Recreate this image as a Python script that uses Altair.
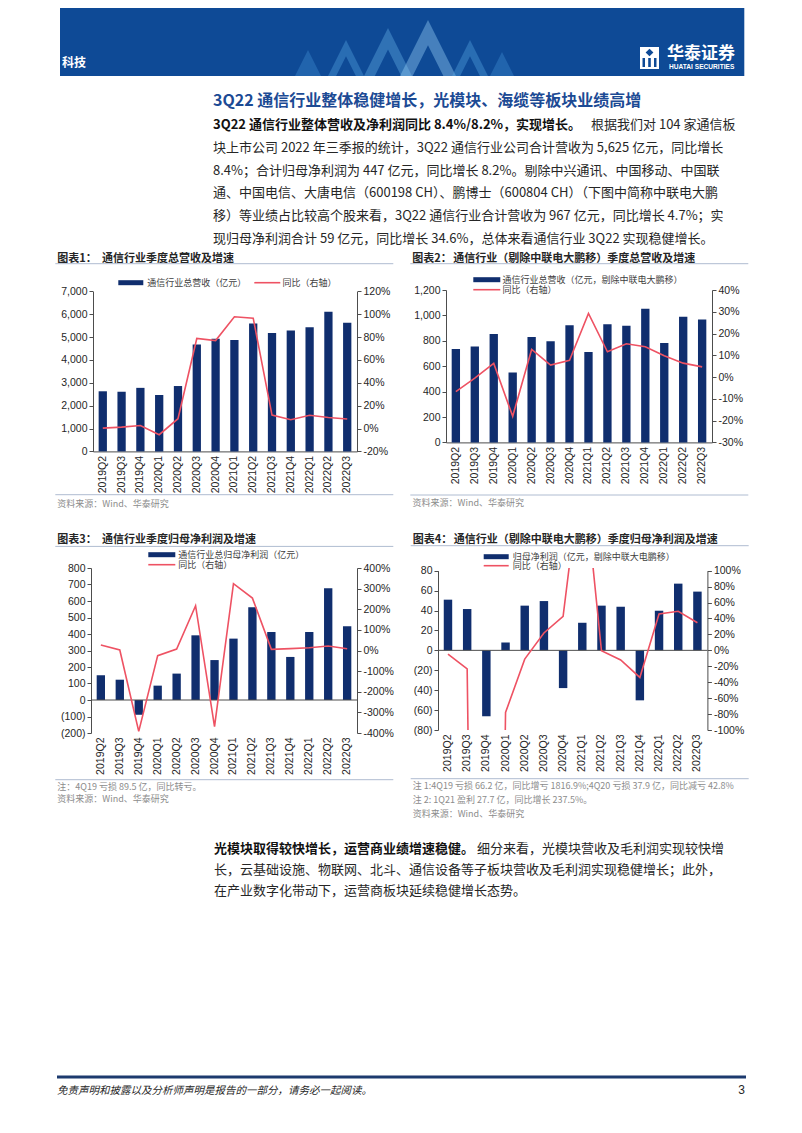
import altair as alt
import pandas as pd

# ---------------- data ----------------
quarters = ["2019Q2", "2019Q3", "2019Q4", "2020Q1", "2020Q2", "2020Q3", "2020Q4",
            "2021Q1", "2021Q2", "2021Q3", "2021Q4", "2022Q1", "2022Q2", "2022Q3"]
rev_total = [2630, 2610, 2780, 2470, 2860, 4680, 4930, 4870, 5600, 5180, 5290, 5430, 6110, 5625]
rev_total_yoy = [0.4, 1.2, 2.7, -5.4, 8.6, 78.8, 77.0, 97.8, 96.6, 11.8, 7.7, 11.6, 9.6, 8.4]
rev_ex = [735, 756, 853, 551, 830, 796, 922, 712, 930, 919, 1053, 783, 990, 967]
rev_ex_yoy = [-6.7, -0.5, 6.3, -18.0, 12.7, 5.5, 7.7, 29.2, 11.6, 15.3, 13.9, 9.8, 6.4, 4.7]
np_total = [150, 123, -89.5, 87, 160, 392, 242, 372, 562, 412, 261, 412, 677, 447]
np_total_yoy = [26.7, 2.4, -392.0, -25.0, 7.3, 217.0, -369.0, 324.0, 254.0, 5.7, 8.9, 13.7, 21.8, 8.2]
np_ex = [50.9, 41.5, -66.2, 8.0, 44.9, 49.5, -37.9, 27.7, 44.9, 43.8, -50.2, 39.8, 67.0, 59.0]
np_ex_yoy = [-4.6, -23.4, -1816.9, -78.0, -11.0, 21.8, 42.8, 237.5, -0.5, -12.0, -34.0, 45.6, 49.0, 34.6]

title_main = "3Q22 通信行业整体稳健增长，光模块、海缆等板块业绩高增"
para1_bold = "3Q22 通信行业整体营收及净利润同比 8.4%/8.2%，实现增长。"
para1_first_rest = "根据我们对 104 家通信板"
para1_lines = [
    "块上市公司 2022 年三季报的统计，3Q22 通信行业公司合计营收为 5,625 亿元，同比增长",
    "8.4%；合计归母净利润为 447 亿元，同比增长 8.2%。剔除中兴通讯、中国移动、中国联",
    "通、中国电信、大唐电信（600198 CH）、鹏博士（600804 CH）（下图中简称中联电大鹏",
    "移）等业绩占比较高个股来看，3Q22 通信行业合计营收为 967 亿元，同比增长 4.7%；实",
    "现归母净利润合计 59 亿元，同比增长 34.6%，总体来看通信行业 3Q22 实现稳健增长。",
]
para2_bold = "光模块取得较快增长，运营商业绩增速稳健。"
para2_first_rest = "细分来看，光模块营收及毛利润实现较快增"
para2_lines = [
    "长，云基础设施、物联网、北斗、通信设备等子板块营收及毛利润实现稳健增长；此外，",
    "在产业数字化带动下，运营商板块延续稳健增长态势。",
]
source_txt = "资料来源：Wind、华泰研究"
yoy_label = "同比（右轴）"
footer_txt = "免责声明和披露以及分析师声明是报告的一部分，请务必一起阅读。"

# ---------------- style ----------------
CJK = "Noto Sans CJK SC"
LAT = "Liberation Sans"
NAVY = "#102E6E"
RED = "#EE5263"
AXC = "#4D4D4D"
TXT = "#262626"
GRAY = "#8C8C8C"
RULE = "#AFBCD1"
BANNER = "#0E4A96"
BLUE = "#1C4A94"
FOOT = "#1C3A6E"
ONE = pd.DataFrame({"k": [0]})


def txt(s, x, y, size=9, color=TXT, weight="normal", font=CJK, align="left", style="normal"):
    return alt.Chart(ONE).mark_text(
        text=s, align=align, baseline="middle", fontSize=size, font=font,
        fontWeight=weight, fontStyle=style, color=color
    ).encode(x=alt.value(x), y=alt.value(y))


def hline(x1, x2, y, color, w=1.0):
    return alt.Chart(ONE).mark_rule(color=color, strokeWidth=w).encode(
        x=alt.value(x1), x2=alt.value(x2), y=alt.value(y))


def box(x1, x2, y1, y2, color, opacity=1.0):
    return alt.Chart(ONE).mark_rect(color=color, opacity=opacity).encode(
        x=alt.value(x1), x2=alt.value(x2), y=alt.value(y1), y2=alt.value(y2))


def shape(x, y, size, color, opacity, path):
    return alt.Chart(ONE).mark_point(shape=path, filled=True, size=size, color=color,
                                     opacity=opacity, strokeWidth=0).encode(
        x=alt.value(x), y=alt.value(y))


def spacer(w, h):
    return alt.Chart(ONE).mark_point(size=0, opacity=0).encode(
        x=alt.value(0.5), y=alt.value(0.5)).properties(width=w, height=h)


def panel(bars, yoy, w, h, top, ldom, lvals, rdom, rvals, zero_line, deco):
    """Plot area is h tall and starts `top` px below the panel's top edge."""
    H = h + top
    df = pd.DataFrame({"q": quarters, "v": bars, "g": yoy})
    x = alt.X("q:N", sort=quarters, title=None,
              scale=alt.Scale(paddingInner=0.56, paddingOuter=0.3),
              axis=alt.Axis(labelAngle=-90, labelFont=LAT, labelFontSize=10.5, labelColor=TXT,
                            labelPadding=4, ticks=False, tickSize=0, domain=not zero_line,
                            domainColor=AXC, labelOverlap=False))
    lexpr = ("datum.value < 0 ? '(' + format(-datum.value, ',') + ')' "
             ": format(datum.value, ',')")
    yl = alt.Y("v:Q", title=None,
               scale=alt.Scale(domain=ldom, nice=False, zero=False, range=[H, top]),
               axis=alt.Axis(orient="left", values=lvals, labelExpr=lexpr, grid=False,
                             domainColor=AXC, tickColor=AXC, tickSize=4, labelPadding=2,
                             labelFont=LAT, labelFontSize=10.5, labelColor=TXT,
                             labelFlush=False, labelOverlap=False))
    yr = alt.Y("g:Q", title=None,
               scale=alt.Scale(domain=rdom, nice=False, zero=False, range=[H, top]),
               axis=alt.Axis(orient="right", values=rvals, labelExpr="datum.value + '%'",
                             grid=False, domainColor=AXC, tickColor=AXC, tickSize=4,
                             labelPadding=2, labelFont=LAT, labelFontSize=10.5,
                             labelColor=TXT, labelFlush=False, labelOverlap=False))
    bar = alt.Chart(df).mark_bar(color=NAVY).encode(x=x, y=yl, y2=alt.datum(0))
    if zero_line:
        zr = alt.Chart(pd.DataFrame({"v": [0]})).mark_rule(color=AXC, strokeWidth=1).encode(y=yl)
        left = alt.layer(bar, zr)
    else:
        left = bar
    line = alt.Chart(df).mark_line(color=RED, strokeWidth=1.6, clip=True).encode(x=x, y=yr)
    return alt.layer(left, line, *deco(top)).resolve_scale(y="independent").properties(
        width=w, height=H)


# ---------------- chart 1 ----------------
def deco1(t):
    return [
        txt("图表1：", -35.7, t - 32.7, 11, TXT, "bold"),
        txt("通信行业季度总营收及增速", 9, t - 32.7, 11, TXT, "bold"),
        hline(-37.7, 300.3, t - 27.7, RULE),
        box(25.3, 50.3, t - 11.2, t - 6.2, NAVY),
        txt("通信行业总营收（亿元）", 54.3, t - 8.7, 9, "#404040"),
        hline(161.3, 187.3, t - 8.7, RED, 1.6),
        txt(yoy_label, 189.6, t - 8.7, 9, "#404040"),
        hline(-37.7, 300.3, t + 203.3, RULE),
        txt(source_txt, -35.7, t + 212.3, 9, GRAY),
    ]


c1 = panel(rev_total, rev_total_yoy, 264, 160, 1.4, [0, 7000], list(range(0, 7001, 1000)),
           [-20, 120], list(range(-20, 121, 20)), False, deco1)


# ---------------- chart 2 ----------------
def deco2(t):
    return [
        txt("图表2：", -33.7, t - 31.3, 11, TXT, "bold"),
        txt("通信行业（剔除中联电大鹏移）季度总营收及增速", 7.3, t - 31.3, 11, TXT, "bold"),
        hline(-35.7, 302.3, t - 26.3, RULE),
        box(27.3, 54.3, t - 12.8, t - 7.8, NAVY),
        txt("通信行业总营收（亿元，剔除中联电大鹏移）", 56.6, t - 10.3, 9, "#404040"),
        hline(27.3, 54.3, t - 0.3, RED, 1.6),
        txt(yoy_label, 56.6, t - 0.3, 9, "#404040"),
        hline(-35.7, 302.3, t + 205, RULE),
        txt(source_txt, -33.4, t + 213.4, 9, GRAY),
    ]


c2 = panel(rev_ex, rev_ex_yoy, 266, 152.4, 0, [0, 1200], list(range(0, 1201, 200)),
           [-30, 40], list(range(-30, 41, 10)), False, deco2)


# ---------------- chart 3 ----------------
def deco3(t):
    return [
        txt("图表3：", -33.7, t - 28.3, 11, TXT, "bold"),
        txt("通信行业季度归母净利润及增速", 11, t - 28.3, 11, TXT, "bold"),
        hline(-35.7, 302.3, t - 21.6, RULE),
        box(57.3, 84.3, t - 15.8, t - 10.8, NAVY),
        txt("通信行业总归母净利润（亿元）", 87.3, t - 13.3, 9, "#404040"),
        hline(57.3, 84.3, t - 3.3, RED, 1.6),
        txt(yoy_label, 87.3, t - 3.3, 9, "#404040"),
        hline(-35.7, 302.3, t + 211.7, RULE),
        txt("注：4Q19 亏损 89.5 亿，同比转亏。", -33.7, t + 218.7, 9, GRAY),
        txt(source_txt, -33.7, t + 230.7, 9, GRAY),
    ]


c3 = panel(np_total, np_total_yoy, 266, 165, 0, [-200, 800], list(range(-200, 801, 100)),
           [-400, 400], list(range(-400, 401, 100)), True, deco3)


# ---------------- chart 4 ----------------
def deco4(t):
    return [
        txt("图表4：", -25.3, t - 31, 11, TXT, "bold"),
        txt("通信行业（剔除中联电大鹏移）季度归母净利润及增速", 15.7, t - 31, 11, TXT, "bold"),
        hline(-27.3, 310.7, t - 25, RULE),
        box(45.7, 70.7, t - 16.5, t - 11.5, NAVY),
        txt("归母净利润（亿元，剔除中联大电鹏移）", 74.7, t - 14, 9, "#404040"),
        hline(45.7, 70.7, t - 5, RED, 1.6),
        txt(yoy_label, 74.7, t - 5, 9, "#404040"),
        hline(-27.3, 310.7, t + 208, RULE),
        txt("注 1:4Q19 亏损 66.2 亿，同比增亏 1816.9%;4Q20 亏损 37.9 亿，同比减亏 42.8%",
            -25.3, t + 215, 9, GRAY),
        txt("注 2: 1Q21 盈利 27.7 亿，同比增长 237.5%。", -25.3, t + 229, 9, GRAY),
        txt(source_txt, -25.3, t + 243, 9, GRAY),
    ]


c4 = panel(np_ex, np_ex_yoy, 269.4, 159.3, 2.7, [-80, 80], list(range(-80, 81, 20)),
           [-100, 100], list(range(-100, 101, 20)), True, deco4)

# ---------------- header ----------------
CHEV = "M-1,1L0,-1L1,1L0.55,1L0,-0.1L-0.55,1Z"
TRI = "M-1,1L0,-1L1,1Z"
head_marks = [
    box(52, 736.3, 0, 68, BANNER),
    shape(300, 55, 26 ** 2, "#4FA3E3", 0.30, TRI),
    shape(338, 50, 36 ** 2, "#5DB0EC", 0.35, CHEV),
    shape(380, 44, 48 ** 2, "#6FBDF0", 0.35, CHEV),
    shape(420, 40, 56 ** 2, "#9AD3F7", 0.40, CHEV),
    shape(462, 50, 36 ** 2, "#5DB0EC", 0.35, CHEV),
    shape(494, 56, 24 ** 2, "#4FA3E3", 0.30, TRI),
    txt("科技", 54, 55, 12, "white", "bold"),
    box(632, 651, 39, 61, "white"),
    box(634.5, 637, 50, 59, BANNER),
    box(640.2, 642.8, 50, 59, BANNER),
    box(646, 648.5, 50, 59, BANNER),
    shape(641.5, 44.5, 60, BANNER, 1.0, "diamond"),
    txt("华泰证券", 659, 45.5, 17, "white", "bold"),
    txt("HUATAI SECURITIES", 661, 58.5, 6.6, "white", "bold", LAT),
    txt(title_main, 205, 92.5, 16, BLUE, "bold"),
    txt(para1_bold, 205, 117.3, 13, "#111111", "bold"),
    txt(para1_first_rest, 583, 117.3, 13, TXT),
]
for i, s in enumerate(para1_lines):
    head_marks.append(txt(s, 205, 117.3 + 22.7 * (i + 1), 13, TXT))
header = alt.layer(*head_marks).properties(width=786, height=281.3)

# ---------------- footer ----------------
# the footer text block; its rule is drawn as a rect a few px above the text
foot_marks = [
    txt(para2_bold, 206, 116, 13, "#111111", "bold"),
    txt(para2_first_rest, 469, 116, 13, TXT),
    box(49, 738, 342.5, 345.5, FOOT),
    txt(footer_txt, 49, 357.7, 10.5, TXT, style="italic"),
    txt("3", 737, 357, 12, TXT, font=LAT, align="right"),
]
for i, s in enumerate(para2_lines):
    foot_marks.append(txt(s, 206, 116 + 20.8 * (i + 1), 13, TXT))
footer = alt.layer(*foot_marks).properties(width=786, height=375)

# ---------------- layout ----------------
row_b = alt.hconcat(spacer(84.7, 1), c1, spacer(89, 1), c2, spacing=0, bounds="flush")
row_c = alt.hconcat(spacer(82.7, 1), c3, spacer(80.6, 1), c4, spacing=0, bounds="flush")

chart = alt.vconcat(header, row_b, spacer(1, 161.4 + 116.6), row_c, spacer(1, 165), footer,
                    spacing=0, bounds="flush", padding=0).configure_view(stroke=None)

chart.save("out.html", embed_options={"renderer": "svg", "actions": False})
